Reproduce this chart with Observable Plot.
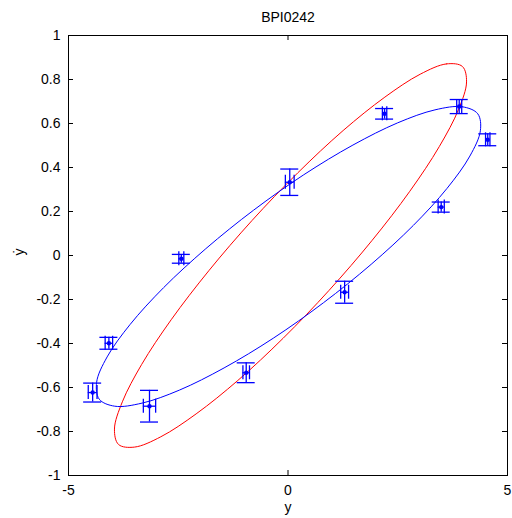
<!DOCTYPE html>
<html><head><meta charset="utf-8">
<script src="https://cdn.jsdelivr.net/npm/d3@7"></script>
<script src="https://cdn.jsdelivr.net/npm/@observablehq/plot@0.6"></script>
<style>
body{margin:0;background:#fff;}
#wrap{width:512px;height:518px;}
</style></head><body>
<div id="wrap"></div>
<script>
// Measured points (phase portrait)
const ptX    = [-4.45, -4.08, -3.155, -2.43, -0.952, 0.04, 1.29, 2.2, 3.49, 3.9, 4.55];
const ptY    = [-0.623, -0.399, -0.685, -0.015, -0.533, 0.333, -0.167, 0.644, 0.22, 0.677, 0.526];
const ptYErr = [0.043, 0.027, 0.072, 0.02, 0.045, 0.06, 0.05, 0.024, 0.023, 0.032, 0.027];
const ptXErr = [0.1, 0.085, 0.14, 0.057, 0.075, 0.1, 0.09, 0.05, 0.07, 0.057, 0.05];

// Red ellipse outline
const redX = [3.974, 3.613, 3.011, 2.207, 1.256, 0.224, -0.820, -1.803, -2.661, -3.333, -3.773, -3.953,
              -3.860, -3.500, -2.897, -2.093, -1.143, -0.110, 0.933, 1.917, 2.775, 3.446, 3.887, 4.067];
const redY = [0.859, 0.871, 0.824, 0.720, 0.568, 0.376, 0.159, -0.069, -0.292, -0.495, -0.665, -0.789,
              -0.859, -0.871, -0.824, -0.720, -0.568, -0.376, -0.159, 0.069, 0.292, 0.495, 0.665, 0.789];

// Blue ellipse outline
const blueX = [4.323, 3.970, 3.348, 2.498, 1.479, 0.359, -0.784, -1.872, -2.833, -3.599, -4.120, -4.359,
               -4.300, -3.947, -3.325, -2.475, -1.456, -0.336, 0.806, 1.895, 2.856, 3.622, 4.143, 4.382];
const blueY = [0.644, 0.676, 0.662, 0.603, 0.502, 0.367, 0.206, 0.031, -0.146, -0.314, -0.461, -0.576,
               -0.653, -0.685, -0.671, -0.612, -0.511, -0.376, -0.215, -0.040, 0.137, 0.305, 0.452, 0.567];

const xTicks = [-5, 0, 5];
const yTicks = [-1, -0.8, -0.6, -0.4, -0.2, 0, 0.2, 0.4, 0.6, 0.8, 1];
const titleText = "BPI0242";
const xLabel = "y";
const yLabel = "\u1E8F";

const pts = ptX.map((x, i) => ({x, y: ptY[i], ey: ptYErr[i], ex: ptXErr[i]}));
const red = redX.map((x, i) => ({x, y: redY[i]}));
const blue = blueX.map((x, i) => ({x, y: blueY[i]}));

const W = 512, H = 518, mL = 68, mR = 5, mT = 35, mB = 43;
const fw = W - mL - mR, fh = H - mT - mB;
const tick = 5;
const capHalfX = 9 * 10 / fw;   // 9px expressed in x units
const capHalfY = 7 * 2 / fh;    // 7px expressed in y units
const BLUE = "#0000ff", RED = "#ff0000";
const font = "'Liberation Sans', Arial, Helvetica, sans-serif";

const chart = Plot.plot({
  width: W, height: H,
  marginLeft: mL, marginRight: mR, marginTop: mT, marginBottom: mB,
  x: {domain: [-5, 5]},
  y: {domain: [-1, 1]},
  style: {fontFamily: font, fontSize: "14px", background: "#fff", color: "#000"},
  marks: [
    // ellipses
    Plot.line(red, {x: "x", y: "y", stroke: RED, strokeWidth: 1, curve: "catmull-rom-closed"}),
    Plot.line(blue, {x: "x", y: "y", stroke: BLUE, strokeWidth: 1, curve: "catmull-rom-closed"}),
    // vertical error bars + caps
    Plot.ruleX(pts, {x: "x", y1: d => d.y - d.ey, y2: d => d.y + d.ey, stroke: BLUE, strokeWidth: 1.3}),
    Plot.ruleY(pts, {y: d => d.y - d.ey, x1: d => d.x - capHalfX, x2: d => d.x + capHalfX, stroke: BLUE, strokeWidth: 1.3}),
    Plot.ruleY(pts, {y: d => d.y + d.ey, x1: d => d.x - capHalfX, x2: d => d.x + capHalfX, stroke: BLUE, strokeWidth: 1.3}),
    // horizontal error bars + caps
    Plot.ruleY(pts, {y: "y", x1: d => d.x - d.ex, x2: d => d.x + d.ex, stroke: BLUE, strokeWidth: 1.3}),
    Plot.ruleX(pts, {x: d => d.x - d.ex, y1: d => d.y - capHalfY, y2: d => d.y + capHalfY, stroke: BLUE, strokeWidth: 1.3}),
    Plot.ruleX(pts, {x: d => d.x + d.ex, y1: d => d.y - capHalfY, y2: d => d.y + capHalfY, stroke: BLUE, strokeWidth: 1.3}),
    // markers
    Plot.dot(pts, {x: "x", y: "y", r: 2.2, fill: BLUE, stroke: "none"}),
    // frame
    Plot.frame({stroke: "#000", strokeWidth: 1}),
    // inward ticks
    Plot.tickX(xTicks, {x: d => d, insetTop: fh - tick, stroke: "#000"}),
    Plot.tickX(xTicks, {x: d => d, insetBottom: fh - tick, stroke: "#000"}),
    Plot.tickY(yTicks, {y: d => d, insetRight: fw - tick, stroke: "#000"}),
    Plot.tickY(yTicks, {y: d => d, insetLeft: fw - tick, stroke: "#000"}),
    // tick labels
    Plot.axisX(xTicks, {tickSize: 0, tickPadding: 10, tickFormat: d => String(d), label: null, fontSize: 14}),
    Plot.axisY(yTicks, {tickSize: 0, tickPadding: 8, tickFormat: d => String(d), label: null, fontSize: 14}),
    // title and axis labels
    Plot.text([titleText], {text: d => d, frameAnchor: "top", dy: -18, lineAnchor: "middle", fontSize: 14}),
    Plot.text([xLabel], {text: d => d, frameAnchor: "bottom", dy: 32, lineAnchor: "middle", fontSize: 14}),
    Plot.text([yLabel], {text: d => d, frameAnchor: "left", dx: -49, rotate: -90, lineAnchor: "middle", fontSize: 14})
  ]
});
document.getElementById("wrap").appendChild(chart);
</script>
</body></html>
